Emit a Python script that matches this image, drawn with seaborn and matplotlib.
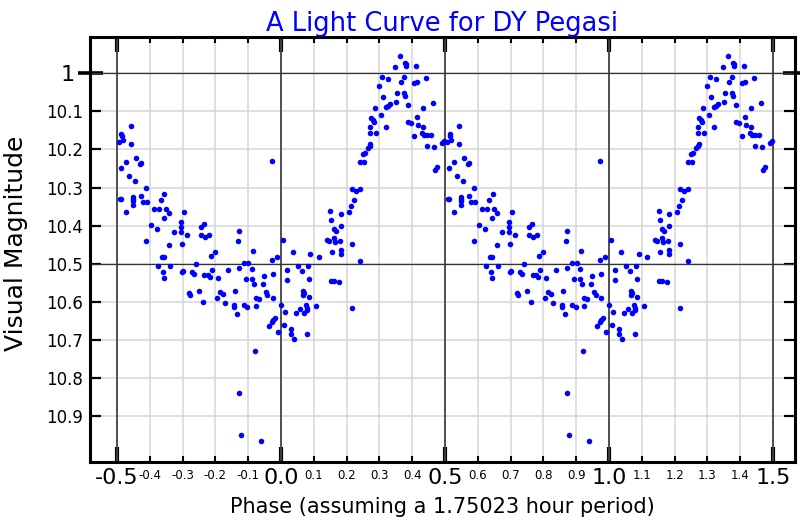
import matplotlib
matplotlib.use("Agg")
import matplotlib.pyplot as plt
import seaborn as sns
import pandas as pd
from matplotlib.ticker import FixedLocator, FixedFormatter

# ---- data: one folded cycle (phase, visual magnitude) ----
phase = [
    -0.457, -0.486, -0.484, -0.495, -0.482, -0.456, -0.441, -0.472, -0.431, -0.427,
    -0.487, -0.463, -0.446, -0.410, -0.491, -0.488, -0.452, -0.452, -0.450, -0.426,
    -0.420, -0.408, -0.450, -0.472, -0.355, -0.365, -0.388, -0.372, -0.351, -0.340,
    -0.357, -0.296, -0.397, -0.378, -0.410, -0.342, -0.327, -0.305, -0.304, -0.305,
    -0.287, -0.303, -0.362, -0.356, -0.374, -0.338, -0.361, -0.357, -0.302, -0.299,
    -0.260, -0.271, -0.264, -0.244, -0.235, -0.243, -0.232, -0.220, -0.214, -0.200,
    -0.233, -0.222, -0.216, -0.209, -0.192,
    -0.281, -0.276, -0.249, -0.239, -0.196, -0.187, -0.178, -0.170,
    -0.128, -0.132, -0.085, -0.013, -0.026, -0.113, -0.099, -0.162, -0.128, -0.089,
    -0.108, -0.087, -0.082, -0.051, -0.054, -0.024, -0.139, -0.046, -0.041, -0.077,
    -0.066, -0.025, -0.144, -0.142, -0.114, -0.102, -0.075, -0.133, -0.001, -0.018,
    -0.024, -0.028, -0.036, -0.010,
    -0.028, -0.079, -0.128, -0.121, -0.061,
    0.154, 0.183, 0.167, 0.163, 0.140, 0.147, 0.163, 0.164, 0.179, 0.216,
    0.157, 0.182, 0.182, 0.241, 0.005, 0.036, 0.090, 0.115, 0.019, 0.019,
    0.053, 0.063, 0.083, 0.085, 0.153, 0.162, 0.178, 0.067, 0.071, 0.066,
    0.085, 0.077, 0.080, 0.079, 0.070, 0.059, 0.045, 0.106, 0.012, 0.216,
    0.008, 0.031, 0.032, 0.039, 0.078,
    0.362, 0.349, 0.377, 0.381, 0.382, 0.413, 0.307, 0.325, 0.376, 0.366,
    0.406, 0.416, 0.443, 0.299, 0.353, 0.375, 0.377, 0.311, 0.352, 0.387,
    0.331, 0.325, 0.321, 0.463, 0.434, 0.287, 0.305, 0.275, 0.280, 0.283,
    0.416, 0.387, 0.395, 0.270, 0.321, 0.419, 0.433, 0.430, 0.437, 0.445,
    0.456, 0.272, 0.289, 0.405, 0.444, 0.467, 0.490, 0.497, 0.266, 0.271,
    0.273, 0.256, 0.251, 0.241, 0.252, 0.469, 0.476, 0.217, 0.229, 0.242,
    0.222, 0.213, 0.208, 0.151, 0.184,
]
magnitude = [
    10.139, 10.160, 10.165, 10.180, 10.176, 10.187, 10.223, 10.233, 10.237, 10.235,
    10.248, 10.270, 10.282, 10.301, 10.329, 10.330, 10.325, 10.330, 10.335, 10.321,
    10.337, 10.338, 10.347, 10.364, 10.317, 10.332, 10.355, 10.356, 10.357, 10.368,
    10.379, 10.364, 10.397, 10.410, 10.440, 10.451, 10.417, 10.390, 10.403, 10.417,
    10.424, 10.449, 10.483, 10.481, 10.505, 10.506, 10.522, 10.537, 10.521, 10.518,
    10.500, 10.521, 10.527, 10.404, 10.395, 10.425, 10.431, 10.424, 10.479, 10.470,
    10.530, 10.530, 10.534, 10.515, 10.537,
    10.577, 10.581, 10.571, 10.600, 10.591, 10.575, 10.578, 10.603,
    10.414, 10.439, 10.466, 10.483, 10.490, 10.497, 10.497, 10.517, 10.512, 10.513,
    10.540, 10.541, 10.553, 10.531, 10.552, 10.526, 10.571, 10.574, 10.582, 10.589,
    10.592, 10.590, 10.609, 10.613, 10.608, 10.613, 10.611, 10.632, 10.609, 10.641,
    10.648, 10.654, 10.662, 10.679,
    10.231, 10.730, 10.839, 10.949, 10.966,
    10.386, 10.402, 10.414, 10.409, 10.438, 10.441, 10.433, 10.444, 10.440, 10.447,
    10.468, 10.465, 10.474, 10.493, 10.437, 10.470, 10.473, 10.481, 10.516, 10.542,
    10.507, 10.519, 10.505, 10.540, 10.544, 10.544, 10.549, 10.571, 10.576, 10.581,
    10.587, 10.607, 10.616, 10.620, 10.629, 10.619, 10.629, 10.612, 10.626, 10.617,
    10.661, 10.671, 10.685, 10.696, 10.684,
    9.955, 9.984, 9.972, 9.976, 9.981, 9.981, 10.009, 10.016, 10.010, 10.023,
    10.026, 10.024, 10.013, 10.033, 10.051, 10.052, 10.059, 10.063, 10.075, 10.083,
    10.082, 10.087, 10.089, 10.077, 10.090, 10.092, 10.109, 10.117, 10.123, 10.128,
    10.115, 10.127, 10.130, 10.141, 10.142, 10.137, 10.142, 10.156, 10.161, 10.162,
    10.161, 10.156, 10.156, 10.164, 10.192, 10.194, 10.184, 10.178, 10.197, 10.190,
    10.186, 10.210, 10.211, 10.234, 10.233, 10.253, 10.247, 10.303, 10.309, 10.303,
    10.332, 10.348, 10.365, 10.362, 10.369,
]
cycles_shown = [0, 1]   # the folded cycle is drawn twice

x_major_ticks = [-0.5, 0.0, 0.5, 1.0, 1.5]
x_major_labels = ["-0.5", "0.0", "0.5", "1.0", "1.5"]
x_minor_ticks = [-0.4, -0.3, -0.2, -0.1, 0.1, 0.2, 0.3, 0.4, 0.6, 0.7, 0.8, 0.9,
                 1.1, 1.2, 1.3, 1.4]
x_minor_labels = ["-0.4", "-0.3", "-0.2", "-0.1", "0.1", "0.2", "0.3", "0.4",
                  "0.6", "0.7", "0.8", "0.9", "1.1", "1.2", "1.3", "1.4"]
y_major_ticks = [10.0]
y_major_labels = ["1"]
y_minor_ticks = [10.1, 10.2, 10.3, 10.4, 10.5, 10.6, 10.7, 10.8, 10.9]
y_minor_labels = ["10.1", "10.2", "10.3", "10.4", "10.5", "10.6", "10.7", "10.8", "10.9"]
x_dark_lines = [-0.5, 0.0, 0.5, 1.0, 1.5]
y_dark_lines = [10.0, 10.5]

title = "A Light Curve for DY Pegasi"
xlabel = "Phase (assuming a 1.75023 hour period)"
ylabel = "Visual Magnitude"

frames = []
for c in cycles_shown:
    frames.append(pd.DataFrame({"phase": [p + c for p in phase], "mag": magnitude}))
df = pd.concat(frames, ignore_index=True)

sns.set_style("white")
plt.rcParams["font.family"] = ["DejaVu Sans"]
plt.rcParams["axes.unicode_minus"] = False
plt.rcParams["text.color"] = "black"
plt.rcParams["axes.labelcolor"] = "black"
plt.rcParams["xtick.color"] = "black"
plt.rcParams["ytick.color"] = "black"

fig = plt.figure(figsize=(8, 5.2), dpi=100)
ax = fig.add_axes([90 / 800, 1 - 462 / 520, 705 / 800, 425 / 520])

# grid
for v in x_minor_ticks + x_major_ticks:
    ax.axvline(v, color="#d6d6d6", lw=1.1, zorder=0)
for v in y_minor_ticks + y_major_ticks:
    ax.axhline(v, color="#d6d6d6", lw=1.1, zorder=0)
for v in x_dark_lines:
    ax.axvline(v, color="#444444", lw=1.3, zorder=1)
for v in y_dark_lines:
    ax.axhline(v, color="#333333", lw=0.9, zorder=1)

sns.scatterplot(data=df, x="phase", y="mag", color="#0000ff", s=16,
                linewidth=0, ax=ax, zorder=5, legend=False)

ax.set_xlim(-0.582, 1.567)
ax.set_ylim(11.02, 9.905)

ax.xaxis.set_major_locator(FixedLocator(x_major_ticks))
ax.xaxis.set_major_formatter(FixedFormatter(x_major_labels))
ax.xaxis.set_minor_locator(FixedLocator(x_minor_ticks))
ax.xaxis.set_minor_formatter(FixedFormatter(x_minor_labels))
ax.yaxis.set_major_locator(FixedLocator(y_major_ticks))
ax.yaxis.set_major_formatter(FixedFormatter(y_major_labels))
ax.yaxis.set_minor_locator(FixedLocator(y_minor_ticks))
ax.yaxis.set_minor_formatter(FixedFormatter(y_minor_labels))

ax.tick_params(axis="x", which="major", direction="in", length=11, width=3.0,
               top=True, bottom=True, labelsize=16, pad=4, color="black",
               labelcolor="black")
ax.tick_params(axis="x", which="minor", direction="in", length=4.5, width=1.5,
               top=True, bottom=True, labelsize=8.5, pad=5, color="black",
               labelcolor="black")
ax.tick_params(axis="y", which="major", direction="inout", length=18, width=2.6,
               left=True, right=True, labelsize=16, pad=2, color="black",
               labelcolor="black")
ax.tick_params(axis="y", which="minor", direction="in", length=8, width=1.6,
               left=True, right=True, labelsize=12, pad=5, color="black",
               labelcolor="black")

for s in ax.spines.values():
    s.set_linewidth(2.2)
    s.set_color("black")

ax.set_title(title, color="#0000ff", fontsize=18.5, pad=4)
ax.set_xlabel(xlabel, fontsize=15, labelpad=7, color="black")
ax.set_ylabel(ylabel, fontsize=18, color="black")
ax.yaxis.set_label_coords(-0.088, 0.515)

fig.savefig("out.png", dpi=100)
